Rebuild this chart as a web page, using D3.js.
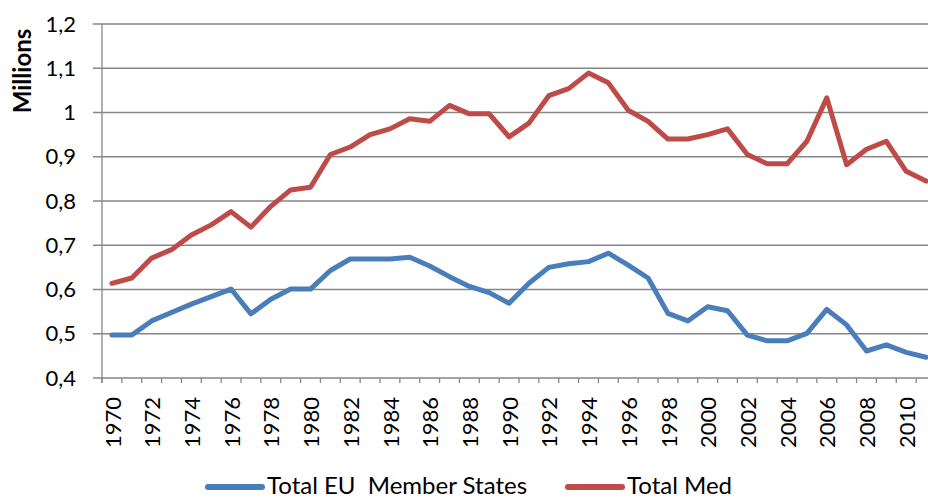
<!DOCTYPE html>
<html>
<head>
<meta charset="utf-8">
<script src="https://cdn.jsdelivr.net/npm/d3@7.9.0/dist/d3.min.js"></script>
<style>
  body { margin: 0; background: #fff; }
  svg { display: block; font-family: Lato, "Open Sans", sans-serif; }
</style>
</head>
<body>
<svg id="chart" width="928" height="499"></svg>
<script>
const years = d3.range(1970, 2012);

// Total EU Member States (millions)
const euValues = [
  0.497, 0.497, 0.529, 0.548, 0.567, 0.584, 0.601, 0.545, 0.578, 0.601,
  0.601, 0.643, 0.669, 0.669, 0.669, 0.673, 0.653, 0.629, 0.607, 0.593,
  0.569, 0.614, 0.650, 0.658, 0.663, 0.682, 0.655, 0.626, 0.546, 0.529,
  0.561, 0.552, 0.497, 0.484, 0.484, 0.501, 0.555, 0.520, 0.461, 0.475,
  0.458, 0.447
];

// Total Med (millions)
const medValues = [
  0.614, 0.626, 0.671, 0.690, 0.723, 0.746, 0.776, 0.741, 0.788, 0.825,
  0.831, 0.905, 0.922, 0.950, 0.963, 0.986, 0.980, 1.016, 0.997, 0.997,
  0.945, 0.976, 1.038, 1.054, 1.089, 1.067, 1.005, 0.980, 0.940, 0.940,
  0.950, 0.963, 0.905, 0.884, 0.884, 0.935, 1.033, 0.882, 0.917, 0.935,
  0.867, 0.845
];

const yTicks = [0.4, 0.5, 0.6, 0.7, 0.8, 0.9, 1.0, 1.1, 1.2];
const seriesNames = ["Total EU  Member States", "Total Med"];
const seriesColors = ["#4A7EBB", "#BE4B48"];

const svg = d3.select("#chart");
const plotLeft = 102, plotTop = 24, plotBottom = 378, plotRight = 936;
const gridColor = "#868686";

const x = d3.scaleBand().domain(years).range([plotLeft, plotRight]).padding(0);
const y = d3.scaleLinear().domain([0.4, 1.2]).range([plotBottom, plotTop]);
const cx = d => x(d) + x.bandwidth() / 2;

const fmt = d => String(+d.toFixed(1)).replace(".", ",");

// gridlines
svg.append("g")
  .selectAll("line")
  .data(yTicks)
  .join("line")
  .attr("x1", plotLeft - 9).attr("x2", 928)
  .attr("y1", d => y(d)).attr("y2", d => y(d))
  .attr("stroke", gridColor).attr("stroke-width", 1.3);

// y labels
svg.append("g")
  .selectAll("text")
  .data(yTicks)
  .join("text")
  .attr("x", 76).attr("y", d => y(d))
  .attr("dy", "0.35em")
  .attr("text-anchor", "end")
  .attr("font-size", 22)
  .attr("fill", "#000")
  .text(fmt);

// y axis line
svg.append("line")
  .attr("x1", plotLeft).attr("x2", plotLeft)
  .attr("y1", plotTop).attr("y2", plotBottom + 5)
  .attr("stroke", gridColor).attr("stroke-width", 1.3);

// x tick marks at category boundaries
svg.append("g")
  .selectAll("line")
  .data(years)
  .join("line")
  .attr("x1", d => x(d)).attr("x2", d => x(d))
  .attr("y1", plotBottom).attr("y2", plotBottom + 5)
  .attr("stroke", gridColor).attr("stroke-width", 1.3);

// x labels, every other year
svg.append("g")
  .selectAll("text")
  .data(years.filter(d => (d - 1970) % 2 === 0))
  .join("text")
  .attr("transform", d => `translate(${cx(d) + 1},${plotBottom + 19}) rotate(-90)`)
  .attr("dy", "0.35em")
  .attr("text-anchor", "end")
  .attr("font-size", 22)
  .attr("fill", "#000")
  .text(d => d);

// y axis title
svg.append("text")
  .attr("transform", `translate(31,71) rotate(-90)`)
  .attr("text-anchor", "middle")
  .attr("font-size", 24)
  .attr("font-weight", "bold")
  .text("Millions");

// lines
const line = d3.line()
  .x((d, i) => cx(years[i]))
  .y(d => y(d));

[euValues, medValues].forEach((vals, i) => {
  svg.append("path")
    .datum(vals)
    .attr("d", line)
    .attr("fill", "none")
    .attr("stroke", seriesColors[i])
    .attr("stroke-width", 5)
    .attr("stroke-linejoin", "round")
    .attr("stroke-linecap", "round");
});

// legend (kept just inside the bottom edge)
const legendX = [208, 568];
seriesNames.forEach((name, i) => {
  const g = svg.append("g").attr("transform", `translate(${legendX[i]},487)`);
  g.append("line")
    .attr("x1", 0).attr("x2", 54)
    .attr("stroke", seriesColors[i])
    .attr("stroke-width", 6)
    .attr("stroke-linecap", "round");
  g.append("text")
    .attr("x", 59)
    .attr("y", 6.5)
    .attr("font-size", 24)
    .attr("xml:space", "preserve")
    .style("white-space", "pre")
    .text(name);
});
</script>
</body>
</html>
